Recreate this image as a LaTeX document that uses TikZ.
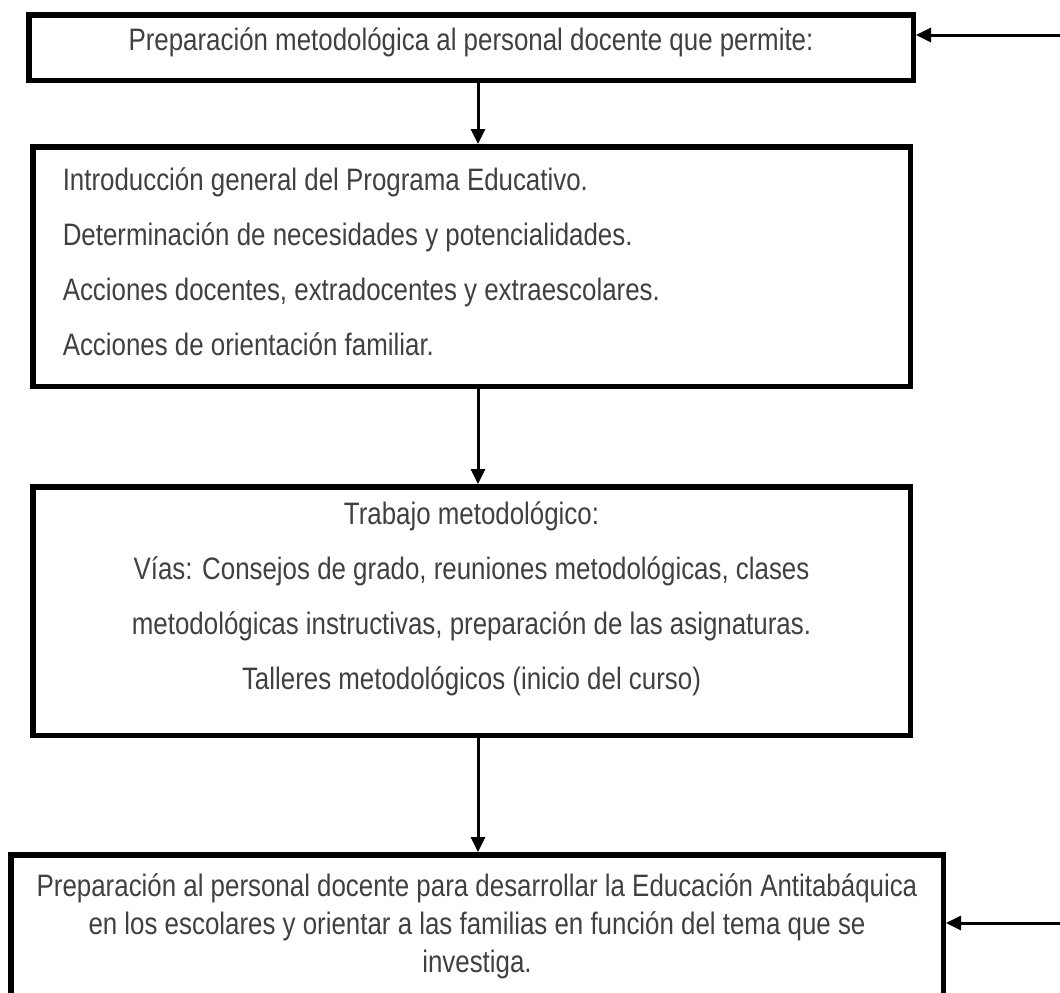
\documentclass[tikz,border=0pt]{standalone}
\usepackage{fontspec}
\setmainfont{Liberation Sans}[FakeStretch=0.835]
\usetikzlibrary{arrows.meta}
\definecolor{txtgray}{RGB}{64,64,64}

\begin{document}
\begin{tikzpicture}[x=1pt, y=-1pt,
    box/.style={draw, line width=5.5pt, anchor=north west, text=txtgray,
                inner sep=0pt, font=\fontsize{31}{55}\selectfont},
    arr/.style={line width=3pt, -{Triangle[length=15pt,width=14pt]}}]
      \useasboundingbox (0,0) rectangle (1060,993);
      \clip (0,0) rectangle (1060,993);
      \node[box, minimum width=884.5pt, minimum height=65.5pt, text depth=16pt] (prep) at (26,12)
            {Preparación metodológica al personal docente que permite:};
      \node[box, minimum width=877.5pt, minimum height=239.5pt, text width=817.5pt,
            inner xsep=30pt, align=flush left, text depth=174pt] (acciones) at (30,144)
            {Introducción general del Programa Educativo.\\
             Determinación de necesidades y potencialidades.\\
             Acciones docentes, extradocentes y extraescolares.\\
             Acciones de orientación familiar.};
      \node[box, minimum width=877.5pt, minimum height=248.5pt, align=center,
            text depth=30pt] (trabajo) at (30,484)
            {Trabajo metodológico:\\
             Vías: Consejos de grado, reuniones metodológicas, clases\\
             metodológicas instructivas, preparación de las asignaturas.\\
             Talleres metodológicos (inicio del curso)};
      \node[box, minimum width=932.5pt, minimum height=142.5pt, align=center,
            font=\fontsize{31}{38}\selectfont] (final) at (8,852)
            {Preparación al personal docente para desarrollar la Educación Antitabáquica\\
             en los escolares y orientar a las familias en función del tema que se\\
             investiga.};
      \coordinate (eje) at (478,0);
      \coordinate (in1) at (1060,35);
      \coordinate (in4) at (1060,923);
      \draw[arr] (prep.south -| eje) -- (acciones.north -| eje);
      \draw[arr] (acciones.south -| eje) -- (trabajo.north -| eje);
      \draw[arr] (trabajo.south -| eje) -- (final.north -| eje);
      \draw[arr] (in1) -- (in1 -| prep.east);
      \draw[arr] (in4) -- (in4 -| final.east);
\end{tikzpicture}
\end{document}
